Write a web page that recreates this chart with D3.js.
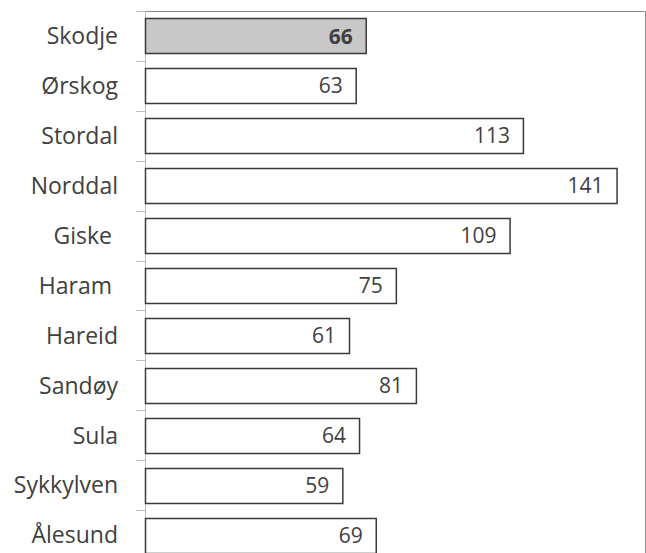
<!DOCTYPE html>
<html>
<head>
<meta charset="utf-8">
<script src="https://cdn.jsdelivr.net/npm/d3@7"></script>
<style>
  body { margin: 0; background: #fff; }
  text { font-family: "Open Sans", sans-serif; fill: #404040; }
</style>
</head>
<body>
<div class="chart"></div>
<script>
// kommuner, top to bottom
var categories = ["Skodje", "Ørskog", "Stordal", "Norddal", "Giske ", "Haram ", "Hareid", "Sandøy", "Sula", "Sykkylven", "Ålesund"];
var values = [66, 63, 113, 141, 109, 75, 61, 81, 64, 59, 69];
var highlight = "Skodje";

var width = 646, height = 553;
var plotLeft = 145, plotRight = 645, plotTop = 11, plotBottom = 560;

var data = categories.map(function(c, i) { return {name: c, value: values[i]}; });

var svg = d3.select(".chart")
            .append("svg")
            .attr("width", width)
            .attr("height", height);

var x = d3.scaleLinear()
          .domain([0, 149.5])
          .range([plotLeft, plotRight]);

var y = d3.scaleBand()
          .domain(categories)
          .range([plotTop, plotBottom])
          .paddingInner(0.3)
          .paddingOuter(0.15);

var step = y.step();

// frame: top and right lines
svg.append("path")
    .attr("d", "M" + plotLeft + "," + (plotTop + 0.5) + "H" + (plotRight + 0.5) + "V" + height)
    .attr("fill", "none")
    .attr("stroke", "#8c8c8c")
    .attr("stroke-width", 1);

// category ticks sit between bands
var tickPos = categories.map(function(c) { return y(c) - step * 0.15; });
tickPos.push(plotBottom);
svg.append("g")
    .selectAll("line")
    .data(tickPos)
  .enter().append("line")
    .attr("x1", plotLeft - 9).attr("x2", plotLeft)
    .attr("y1", function(d) { return Math.round(d) + 0.5; })
    .attr("y2", function(d) { return Math.round(d) + 0.5; })
    .attr("stroke", "#bdbdbd");

svg.append("line")
    .attr("x1", plotLeft + 0.5).attr("x2", plotLeft + 0.5)
    .attr("y1", plotTop).attr("y2", plotBottom)
    .attr("stroke", "#bdbdbd");

var bars = svg.append("g").attr("class", "bars");

bars.selectAll("rect")
    .data(data)
  .enter().append("rect")
    .attr("x", x(0) + 0.5)
    .attr("y", function(d) { return Math.round(y(d.name)) + 0.5; })
    .attr("width", function(d) { return x(d.value) - x(0); })
    .attr("height", Math.round(y.bandwidth()))
    .attr("fill", function(d) { return d.name === highlight ? "#c8c8c8" : "#ffffff"; })
    .attr("stroke", "#3a3a3a")
    .attr("stroke-width", 1.5);

bars.selectAll("text")
    .data(data)
  .enter().append("text")
    .attr("x", function(d) { return x(d.value) - 13; })
    .attr("y", function(d) { return y(d.name) + y.bandwidth() / 2; })
    .attr("dy", "0.36em")
    .attr("text-anchor", "end")
    .style("font-size", "21px")
    .style("font-weight", function(d) { return d.name === highlight ? "bold" : "normal"; })
    .text(function(d) { return d.value; });

svg.append("g")
    .selectAll("text")
    .data(categories)
  .enter().append("text")
    .attr("x", 118)
    .attr("y", function(d) { return y(d) + y.bandwidth() / 2; })
    .attr("dy", "0.36em")
    .attr("text-anchor", "end")
    .attr("xml:space", "preserve")
    .style("white-space", "pre")
    .style("font-size", "23px")
    .text(function(d) { return d; });
</script>
</body>
</html>
